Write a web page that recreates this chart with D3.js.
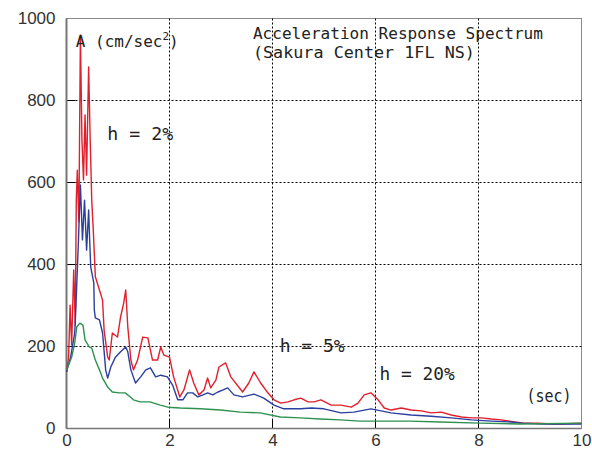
<!doctype html>
<html>
  <head>
    <meta charset="utf-8">
    <title>Acceleration Response Spectrum</title>
    <script src="https://d3js.org/d3.v7.min.js"></script>
    <style type="text/css">
      body { margin: 0; background-color: #ffffff; }
      svg { display: block; }
      .tick text { font-family: "Liberation Sans", Arial, sans-serif; font-size: 17px; fill: #333; }
      .mono { font-family: "DejaVu Sans Mono", "Liberation Mono", monospace; fill: #222; }
    </style>
  </head>
  <body>
    <script>
      // period (sec) and spectral acceleration (cm/sec^2)
      var periods2 = [0.00,0.04,0.07,0.10,0.14,0.17,0.19,0.21,0.24,0.27,0.30,0.33,0.36,0.39,0.43,0.46,0.49,0.52,0.56,0.64,0.70,0.73,0.80,0.83,0.89,0.99,1.05,1.11,1.15,1.19,1.25,1.30,1.38,1.48,1.58,1.67,1.77,1.83,1.89,2.00,2.08,2.20,2.28,2.39,2.47,2.57,2.67,2.74,2.80,2.90,2.96,3.09,3.19,3.42,3.54,3.64,3.77,3.91,4.03,4.16,4.30,4.42,4.55,4.69,4.81,4.94,5.14,5.33,5.53,5.66,5.78,5.91,6.05,6.17,6.30,6.50,6.69,6.89,7.08,7.28,7.47,7.67,7.86,8.05,8.25,8.44,8.70,8.89,9.16,9.42,9.61,10.0];
      var accel2 = [138,172,301,204,387,252,557,630,504,960,704,606,765,618,882,704,557,484,370,338,313,240,174,167,233,223,272,306,338,248,167,143,167,223,221,167,167,199,179,174,126,77,94,143,111,82,94,123,99,118,150,160,126,89,111,138,111,87,70,62,65,70,74,65,65,70,57,57,52,62,82,87,70,50,45,50,45,43,38,40,33,28,26,26,23,21,16,13,13,11,11,13];

      var periods5 = [0.00,0.08,0.16,0.18,0.23,0.27,0.31,0.35,0.39,0.43,0.45,0.47,0.53,0.54,0.56,0.64,0.70,0.74,0.76,0.80,0.86,0.95,1.05,1.15,1.19,1.25,1.34,1.44,1.54,1.63,1.73,1.83,1.96,2.06,2.16,2.26,2.35,2.45,2.55,2.65,2.74,2.84,2.94,3.04,3.13,3.25,3.42,3.64,3.83,4.03,4.22,4.55,4.75,5.00,5.33,5.58,5.91,6.11,6.30,6.69,7.08,7.47,7.86,8.25,8.64,8.83,9.22,9.61,10.0];
      var accel5 = [138,174,233,289,452,594,460,557,435,533,460,394,355,289,270,265,233,174,143,123,150,174,187,199,187,143,111,126,143,148,126,130,126,106,70,70,87,87,77,82,87,82,89,94,99,82,77,84,74,57,48,48,50,48,38,40,48,43,38,33,30,26,21,18,16,13,11,11,11];

      var periods20 = [0.00,0.10,0.16,0.20,0.26,0.32,0.36,0.44,0.49,0.56,0.64,0.70,0.80,0.89,1.02,1.14,1.24,1.30,1.43,1.62,1.82,1.97,2.21,2.60,2.99,3.38,3.76,4.15,4.54,4.93,5.31,5.70,6.09,6.67,7.25,8.03,8.81,10.0];
      var accel20 = [143,174,209,248,257,252,216,199,196,167,143,123,101,89,87,87,77,70,65,65,57,52,50,48,45,40,38,28,26,23,21,18,18,18,16,13,11,13];

      var xTicks = [0, 2, 4, 6, 8, 10];
      var yTicks = [0, 200, 400, 600, 800, 1000];
      var gridX = [2, 4, 6, 8];
      var gridY = [200, 400, 600, 800];

      var w = 592, h = 453;

      var x = d3.scaleLinear().domain([0, 10]).range([66.5, 581.5]);
      var y = d3.scaleLinear().domain([0, 1000]).range([428.5, 18.5]);

      var svg = d3.select("body").append("svg")
        .attr("width", w)
        .attr("height", h);

      // plot frame
      svg.append("rect")
        .attr("x", x(0)).attr("y", y(1000))
        .attr("width", x(10) - x(0)).attr("height", y(0) - y(1000))
        .attr("fill", "#fff")
        .attr("stroke", "#8a8a8a")
        .attr("stroke-width", 1);

      // dotted grid + short solid ticks
      var grid = svg.append("g");
      grid.selectAll(".gx").data(gridX).enter().append("line")
        .attr("x1", function(d) { return x(d); }).attr("x2", function(d) { return x(d); })
        .attr("y1", y(1000)).attr("y2", y(0) - 10)
        .attr("stroke", "#000").attr("stroke-dasharray", "2,2");
      grid.selectAll(".tx").data(gridX).enter().append("line")
        .attr("x1", function(d) { return x(d); }).attr("x2", function(d) { return x(d); })
        .attr("y1", y(0) - 10).attr("y2", y(0))
        .attr("stroke", "#000");
      grid.selectAll(".gy").data(gridY).enter().append("line")
        .attr("x1", x(0) + 9).attr("x2", x(10))
        .attr("y1", function(d) { return y(d); }).attr("y2", function(d) { return y(d); })
        .attr("stroke", "#000").attr("stroke-dasharray", "2,2");
      grid.selectAll(".ty").data(gridY).enter().append("line")
        .attr("x1", x(0)).attr("x2", x(0) + 9)
        .attr("y1", function(d) { return y(d); }).attr("y2", function(d) { return y(d); })
        .attr("stroke", "#000");

      // left & bottom axis lines (a bit heavier)
      svg.append("line").attr("x1", x(0)).attr("x2", x(0)).attr("y1", y(1000)).attr("y2", y(0))
        .attr("stroke", "#777").attr("stroke-width", 2);
      svg.append("line").attr("x1", x(0)).attr("x2", x(10)).attr("y1", y(0)).attr("y2", y(0))
        .attr("stroke", "#777").attr("stroke-width", 1.5);

      // tick labels
      var yAxis = svg.append("g")
        .attr("transform", "translate(" + x(0) + ",0)")
        .call(d3.axisLeft(y).tickValues(yTicks).tickFormat(d3.format("d")).tickSize(0).tickPadding(11));
      yAxis.select(".domain").remove();

      var xAxis = svg.append("g")
        .attr("transform", "translate(0," + y(0) + ")")
        .call(d3.axisBottom(x).tickValues(xTicks).tickFormat(d3.format("d")).tickSize(0).tickPadding(5));
      xAxis.select(".domain").remove();

      // spectra
      var line = d3.line()
        .x(function(d) { return x(d[0]); })
        .y(function(d) { return y(d[1]); });

      var series = [
        { t: periods2, v: accel2, color: "#e0202c" },
        { t: periods5, v: accel5, color: "#2a3f9e" },
        { t: periods20, v: accel20, color: "#2f9150" }
      ];

      series.forEach(function(s) {
        svg.append("path")
          .datum(d3.zip(s.t, s.v))
          .attr("d", line)
          .attr("fill", "none")
          .attr("stroke", s.color)
          .attr("stroke-width", 1.4)
          .attr("stroke-linejoin", "round");
      });

      // annotations
      function label(txt, px, py, len, size) {
        return svg.append("text")
          .attr("class", "mono")
          .attr("x", x(px)).attr("y", y(py))
          .attr("font-size", size)
          .attr("textLength", len)
          .attr("lengthAdjust", "spacingAndGlyphs")
          .text(txt);
      }

      label("Acceleration Response Spectrum", 3.62, 950, 290, 15.5);
      label("(Sakura Center 1FL NS)", 3.62, 904, 222, 15.5);
      label("h = 2%", 0.79, 704, 66, 17);
      label("h = 5%", 4.14, 187, 65, 17);
      label("h = 20%", 6.08, 118, 75, 17);
      label("(sec)", 8.93, 65, 45, 17);

      var unit = svg.append("text")
        .attr("class", "mono")
        .attr("x", x(0.18)).attr("y", y(930))
        .attr("font-size", 16)
        .attr("xml:space", "preserve");
      unit.append("tspan").text("A (cm/sec");
      unit.append("tspan").attr("font-size", 11).attr("dy", -7).text("2");
      unit.append("tspan").attr("dy", 7).text(")");
    </script>
  </body>
</html>
